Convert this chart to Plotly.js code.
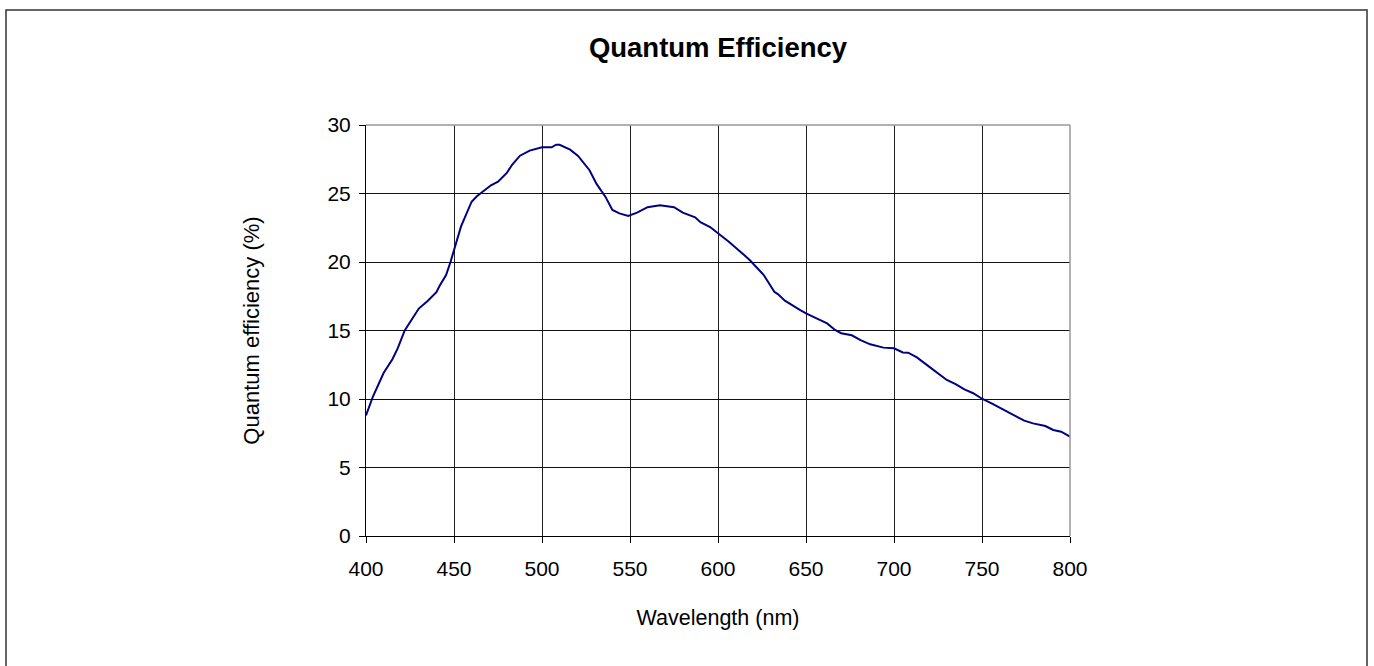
<!DOCTYPE html>
<html>
<head>
<meta charset="utf-8">
<script src="https://cdn.plot.ly/plotly-3.0.1.min.js"></script>
<style>
  html, body { margin: 0; padding: 0; background: #fff; }
  #chart { width: 1374px; height: 666px; }
</style>
</head>
<body>
<div id="chart"></div>
<script>
// Wavelength (nm)
const wavelength = [400, 404, 410, 415, 418, 422, 426, 430, 435, 440, 442, 445.5, 448, 450, 454, 460, 463, 471, 475, 480, 483, 487.5, 493, 500, 505.5, 508, 510, 516, 520.5, 527, 531, 536, 540, 544, 549, 554, 560, 567, 575, 580, 587, 590, 595.5, 600, 606, 615, 618, 626, 632, 634, 638, 646.5, 650, 656, 662, 666.5, 670, 676, 681, 686.5, 694, 700, 705, 708, 713, 720.5, 725, 730, 735, 740, 745, 750, 756, 762, 768, 774, 779, 786, 790.5, 795, 800];
// Quantum efficiency (%)
const efficiency = [8.8, 10.2, 11.9, 12.9, 13.7, 15.0, 15.8, 16.6, 17.15, 17.8, 18.3, 19.05, 20.0, 20.9, 22.6, 24.4, 24.8, 25.6, 25.86, 26.5, 27.1, 27.76, 28.13, 28.37, 28.37, 28.56, 28.56, 28.2, 27.74, 26.7, 25.7, 24.77, 23.8, 23.55, 23.36, 23.6, 24.0, 24.14, 24.0, 23.6, 23.26, 22.9, 22.55, 22.1, 21.5, 20.5, 20.15, 19.05, 17.83, 17.66, 17.18, 16.5, 16.25, 15.89, 15.52, 15.04, 14.8, 14.65, 14.3, 13.99, 13.75, 13.7, 13.4, 13.38, 13.04, 12.31, 11.87, 11.39, 11.09, 10.7, 10.42, 10.02, 9.64, 9.25, 8.83, 8.42, 8.22, 8.03, 7.74, 7.61, 7.25];

const chartTitle = 'Quantum Efficiency';
const xTitle = 'Wavelength (nm)';
const yTitle = 'Quantum efficiency (%)';
const xTicks = [400, 450, 500, 550, 600, 650, 700, 750, 800];
const yTicks = [0, 5, 10, 15, 20, 25, 30];

const FONT = '"Liberation Sans", Arial, Helvetica, sans-serif';

const trace = {
  x: wavelength,
  y: efficiency,
  type: 'scatter',
  mode: 'lines',
  line: { color: '#000080', width: 2 },
  hoverinfo: 'x+y'
};

const layout = {
  width: 1374,
  height: 666,
  margin: { l: 366, r: 304, t: 125, b: 130, pad: 0 },
  paper_bgcolor: '#ffffff',
  plot_bgcolor: '#ffffff',
  showlegend: false,
  font: { family: FONT, color: '#000', size: 21 },
  title: {
    text: '<b>' + chartTitle + '</b>',
    font: { family: FONT, size: 27.5, color: '#000' },
    xref: 'paper', x: 0.5, xanchor: 'center',
    yref: 'container', y: 1 - 47 / 666, yanchor: 'middle'
  },
  xaxis: {
    range: [400, 800],
    tickmode: 'array',
    tickvals: xTicks,
    ticktext: xTicks.map(String),
    ticks: 'outside', ticklen: 6, tickwidth: 1, tickcolor: '#000',
    ticklabelstandoff: 8,
    tickfont: { family: FONT, size: 21, color: '#000' },
    showgrid: true, gridcolor: '#222', gridwidth: 1,
    showline: true, linecolor: '#000', linewidth: 1,
    zeroline: false,
    title: { text: xTitle, font: { family: FONT, size: 21.5, color: '#000' }, standoff: 30 },
    automargin: false
  },
  yaxis: {
    range: [0, 30],
    tickmode: 'array',
    tickvals: yTicks,
    ticktext: yTicks.map(String),
    ticks: 'outside', ticklen: 6, tickwidth: 1, tickcolor: '#000',
    ticklabelstandoff: 4,
    tickfont: { family: FONT, size: 21, color: '#000' },
    showgrid: true, gridcolor: '#111', gridwidth: 1,
    showline: true, linecolor: '#000', linewidth: 1,
    zeroline: false,
    title: { text: yTitle, font: { family: FONT, size: 22, color: '#000' }, standoff: 61 },
    automargin: false
  },
  shapes: [
    { type: 'line', xref: 'paper', yref: 'paper', x0: 0, x1: 1, y0: 1, y1: 1, line: { color: '#999', width: 1.5 }, layer: 'above' },
    { type: 'line', xref: 'paper', yref: 'paper', x0: 1, x1: 1, y0: 0, y1: 1, line: { color: '#999', width: 1.5 }, layer: 'above' },
    { type: 'rect', xref: 'paper', yref: 'paper',
      x0: (6 - 366) / 704, x1: (1367 - 366) / 704,
      y0: (536 - 680) / 411, y1: (536 - 10) / 411,
      line: { color: '#333', width: 1.5 }, fillcolor: 'rgba(0,0,0,0)', layer: 'below' }
  ]
};

Plotly.newPlot('chart', [trace], layout, { displayModeBar: false, staticPlot: true });
</script>
</body>
</html>
